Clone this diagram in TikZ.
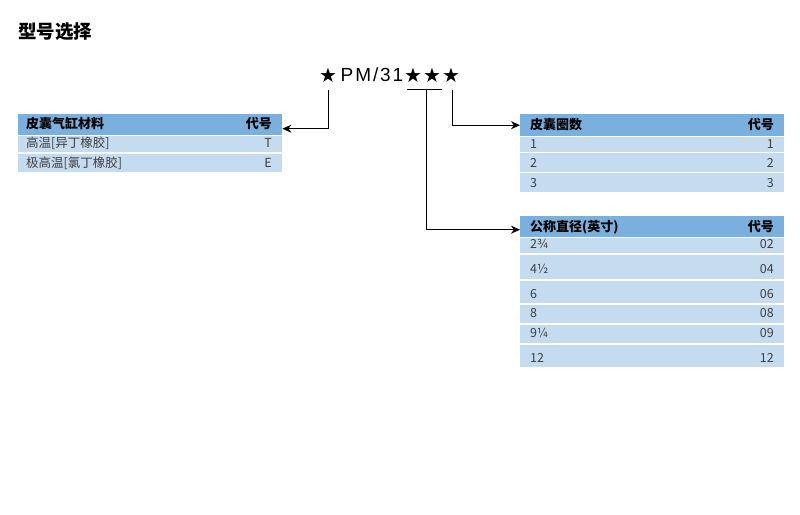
\documentclass[tikz,border=0pt]{standalone}
\usepackage{fontspec}
\setmainfont{Noto Sans CJK SC}
\newfontfamily\symfont{DejaVu Sans}
\newfontfamily\codefont[LetterSpace=10]{Liberation Sans}
\usetikzlibrary{arrows.meta}
\definecolor{hdr}{RGB}{122,176,222}
\definecolor{rowc}{RGB}{197,219,240}
\definecolor{txt}{RGB}{64,64,64}
\tikzset{
  cell/.style={anchor=north west, inner sep=0pt, minimum width=264pt},
  hcell/.style={cell, fill=hdr},
  rcell/.style={cell, fill=rowc},
  htext/.style={inner sep=0pt, font=\fontsize{13}{13}\selectfont\bfseries, text=black},
  ltext/.style={inner sep=0pt, anchor=west, font=\fontsize{12.5}{12.5}\selectfont, text=txt},
  rtext/.style={inner sep=0pt, anchor=east, font=\fontsize{12.5}{12.5}\selectfont, text=txt},
  star/.style={inner sep=0pt, font=\symfont\fontsize{20}{20}\selectfont},
  arr/.style={-{Stealth[length=9pt,width=8pt]}, line width=0.9pt},
  plain/.style={line width=0.9pt}
}
\begin{document}
\begin{tikzpicture}[x=1pt,y=-1pt]
\useasboundingbox (0,0) rectangle (800,514);
% title
\node[anchor=west, inner sep=0pt, font=\fontsize{18.5}{18.5}\selectfont\bfseries] (title) at (18,32) {型号选择};
% model code
\node[star] (s1) at (328,75) {★};
\node[inner sep=0pt, font=\codefont\fontsize{19}{19}\selectfont] (pm) at (372,75) {PM/31};
\node[star] (s2) at (413,75) {★};
\node[star] (s3) at (432,75) {★};
\node[star] (s4) at (451,75) {★};
% left table
\node[hcell, minimum height=21pt] (lh) at (18,114) {};
\node[rcell, minimum height=16pt] (lr1) at (18,136) {};
\node[rcell, minimum height=18pt] (lr2) at (18,154) {};
\node[htext, anchor=west] (lht) at (26,124) {皮囊气缸材料};
\node[htext, anchor=east] (lhc) at (272,124) {代号};
\node[ltext] (l1t) at (26,143) {高温[异丁橡胶]};
\node[rtext] (l1c) at (272,143) {T};
\node[ltext] (l2t) at (26,163) {极高温[氯丁橡胶]};
\node[rtext] (l2c) at (272,163) {E};
% right table 1
\node[hcell, minimum height=22pt] (ah) at (520,114) {};
\node[rcell, minimum height=15pt] (ar1) at (520,137) {};
\node[rcell, minimum height=19pt] (ar2) at (520,153) {};
\node[rcell, minimum height=19pt] (ar3) at (520,173) {};
\node[htext, anchor=west] (aht) at (530,125) {皮囊圈数};
\node[htext, anchor=east] (ahc) at (774,125) {代号};
\node[ltext] (a1t) at (530,144) {1};
\node[rtext] (a1c) at (774,144) {1};
\node[ltext] (a2t) at (530,163) {2};
\node[rtext] (a2c) at (774,163) {2};
\node[ltext] (a3t) at (530,183) {3};
\node[rtext] (a3c) at (774,183) {3};
% right table 2
\node[hcell, minimum height=21pt] (bh) at (520,216) {};
\node[rcell, minimum height=15pt] (br1) at (520,238) {};
\node[rcell, minimum height=24pt] (br2) at (520,255) {};
\node[rcell, minimum height=22pt] (br3) at (520,281) {};
\node[rcell, minimum height=18pt] (br4) at (520,305) {};
\node[rcell, minimum height=18pt] (br5) at (520,325) {};
\node[rcell, minimum height=22pt] (br6) at (520,345) {};
\node[htext, anchor=west] (bht) at (530,227) {公称直径(英寸)};
\node[htext, anchor=east] (bhc) at (774,227) {代号};
\node[ltext] (b1t) at (530,244) {2¾};
\node[rtext] (b1c) at (774,244) {02};
\node[ltext] (b2t) at (530,269) {4½};
\node[rtext] (b2c) at (774,269) {04};
\node[ltext] (b3t) at (530,294) {6};
\node[rtext] (b3c) at (774,294) {06};
\node[ltext] (b4t) at (530,313) {8};
\node[rtext] (b4c) at (774,313) {08};
\node[ltext] (b5t) at (530,333) {9¼};
\node[rtext] (b5c) at (774,333) {09};
\node[ltext] (b6t) at (530,358) {12};
\node[rtext] (b6c) at (774,358) {12};
% connectors
\coordinate (c1) at (328,90);
\coordinate (c4) at (452,90);
\coordinate (bl) at (407,89);
\coordinate (br) at (442,89);
\coordinate (bm) at (426,89);
\draw[arr] (c1) |- ([yshift=-4pt]lh.east);
\draw[arr] (c4) |- (ah.west);
\draw[plain] (bl) -- (br);
\draw[arr] (bm) |- ([yshift=-3pt]bh.west);
\end{tikzpicture}
\end{document}
